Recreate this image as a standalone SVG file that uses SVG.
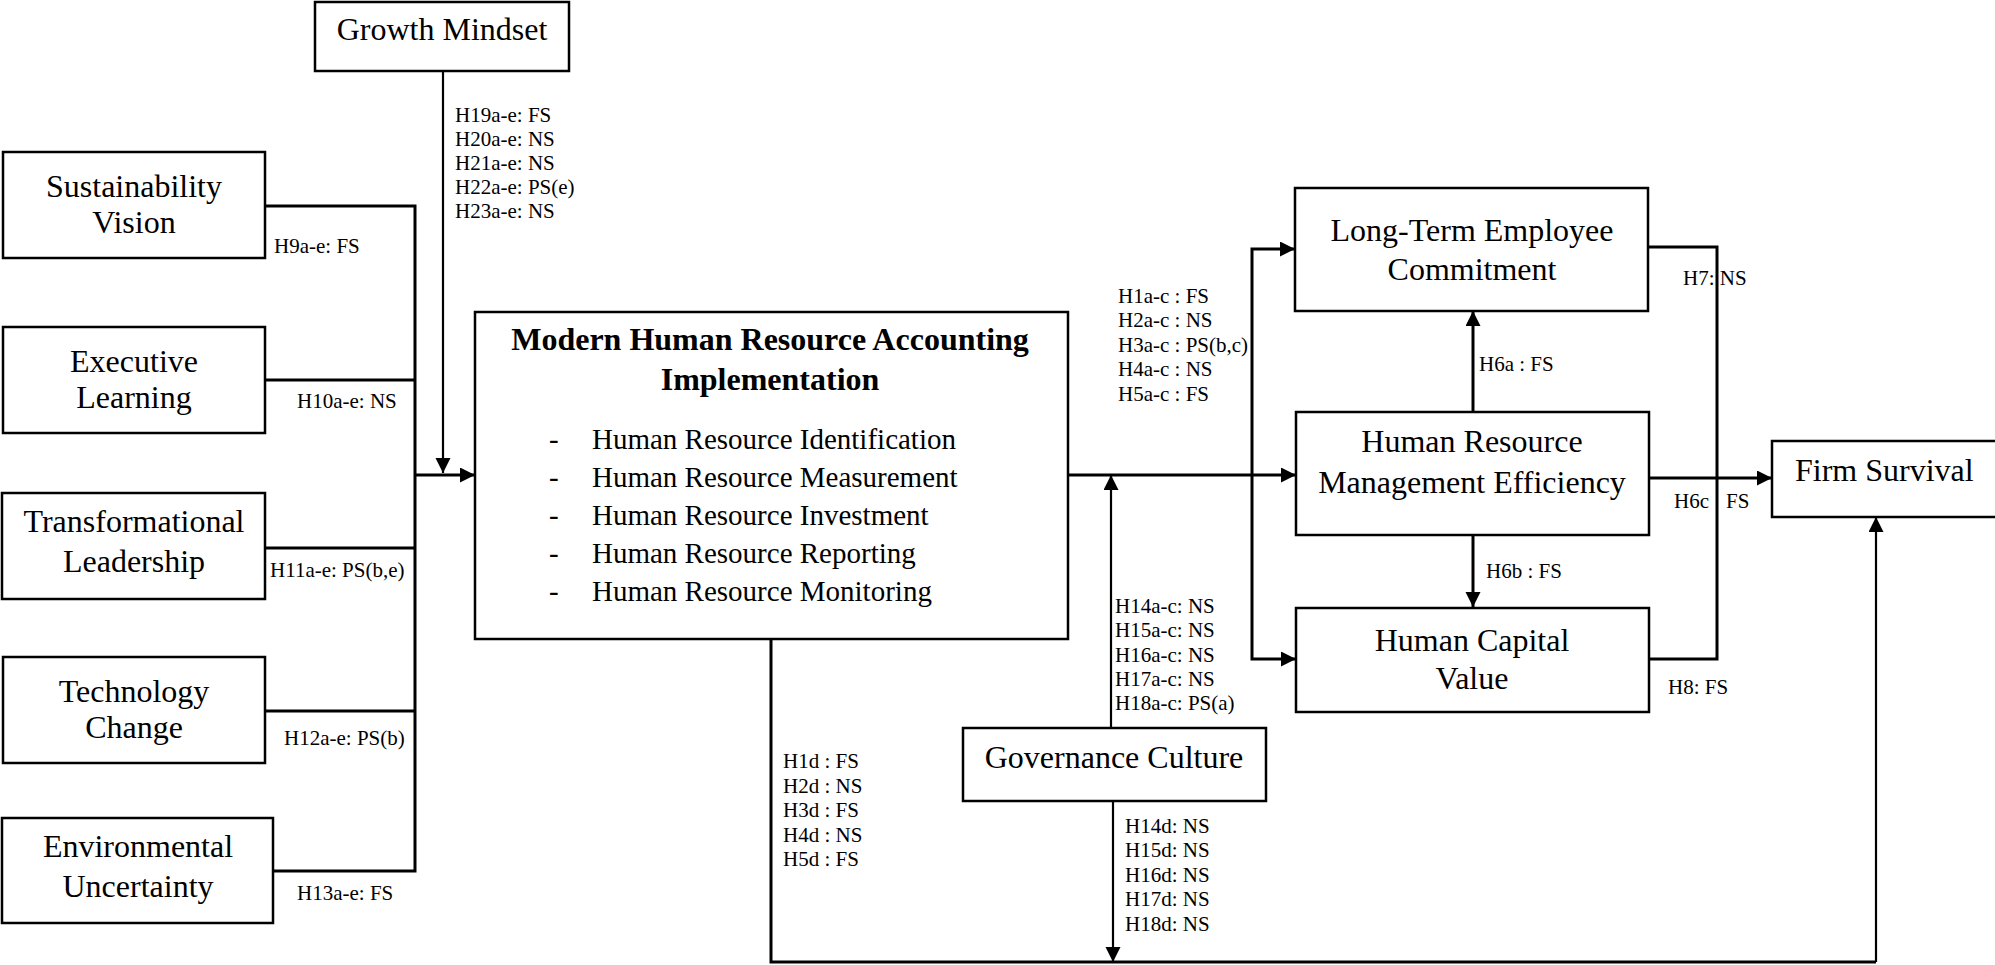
<svg xmlns="http://www.w3.org/2000/svg" width="1995" height="965" viewBox="0 0 1995 965">
  <defs>
    <style>
      .box { fill: #ffffff; stroke: #000000; stroke-width: 2.5; }
      .line { fill: none; stroke: #000000; stroke-width: 3; }
      .thin { fill: none; stroke: #000000; stroke-width: 2.2; }
      .node { font-family: "Liberation Serif", "Times New Roman", serif; font-size: 32px; fill: #000000; text-anchor: middle; }
      .title { font-family: "Liberation Serif", "Times New Roman", serif; font-size: 32px; font-weight: bold; fill: #000000; text-anchor: middle; }
      .item { font-family: "Liberation Serif", "Times New Roman", serif; font-size: 29px; fill: #000000; }
      .lbl { font-family: "Liberation Serif", "Times New Roman", serif; font-size: 21px; fill: #000000; }
    </style>
    <marker id="arrow" markerUnits="userSpaceOnUse" markerWidth="16" markerHeight="16" refX="15" refY="7.5" orient="auto">
      <path d="M0,0 L15,7.5 L0,15 Z" fill="#000000"/>
    </marker>
  </defs>

  <rect width="1995" height="965" fill="#ffffff"/>

  <!-- connectors -->
  <g id="connectors">
    <!-- growth mindset moderator -->
    <path class="thin" d="M443,71 V473" marker-end="url(#arrow)"/>
    <!-- antecedent bus -->
    <path class="line" d="M265,206 H415 V871 H273"/>
    <path class="line" d="M265,380 H415"/>
    <path class="line" d="M265,548 H415"/>
    <path class="line" d="M265,711 H415"/>
    <path class="line" d="M415,475 H475" marker-end="url(#arrow)"/>
    <!-- MHRA to outcomes -->
    <path class="line" d="M1068,475 H1296" marker-end="url(#arrow)"/>
    <path class="line" d="M1252,475 V249 H1295" marker-end="url(#arrow)"/>
    <path class="line" d="M1252,475 V659 H1296" marker-end="url(#arrow)"/>
    <!-- governance culture moderator -->
    <path class="thin" d="M1111,728 V475" marker-end="url(#arrow)"/>
    <path class="thin" d="M1113,801 V962" marker-end="url(#arrow)"/>
    <!-- direct path to firm survival -->
    <path class="line" d="M771,639 V962 H1876"/>
    <path class="thin" d="M1876,962 V517" marker-end="url(#arrow)"/>
    <!-- HRM efficiency links -->
    <path class="line" d="M1473,412 V311" marker-end="url(#arrow)"/>
    <path class="line" d="M1473,535 V607" marker-end="url(#arrow)"/>
    <!-- outcomes to firm survival -->
    <path class="line" d="M1648,247 H1717 V659 H1649"/>
    <path class="line" d="M1649,478 H1772" marker-end="url(#arrow)"/>
  </g>

  <!-- path labels -->
  <g id="labels">
    <text class="lbl" x="455" y="122">H19a-e: FS</text>
    <text class="lbl" x="455" y="146">H20a-e: NS</text>
    <text class="lbl" x="455" y="170">H21a-e: NS</text>
    <text class="lbl" x="455" y="194">H22a-e: PS(e)</text>
    <text class="lbl" x="455" y="218">H23a-e: NS</text>

    <text class="lbl" x="274" y="253">H9a-e: FS</text>
    <text class="lbl" x="297" y="408">H10a-e: NS</text>
    <text class="lbl" x="270" y="577">H11a-e: PS(b,e)</text>
    <text class="lbl" x="284" y="745">H12a-e: PS(b)</text>
    <text class="lbl" x="297" y="900">H13a-e: FS</text>

    <text class="lbl" x="1118" y="303">H1a-c : FS</text>
    <text class="lbl" x="1118" y="327">H2a-c : NS</text>
    <text class="lbl" x="1118" y="352">H3a-c : PS(b,c)</text>
    <text class="lbl" x="1118" y="376">H4a-c : NS</text>
    <text class="lbl" x="1118" y="401">H5a-c : FS</text>

    <text class="lbl" x="1115" y="613">H14a-c: NS</text>
    <text class="lbl" x="1115" y="637">H15a-c: NS</text>
    <text class="lbl" x="1115" y="662">H16a-c: NS</text>
    <text class="lbl" x="1115" y="686">H17a-c: NS</text>
    <text class="lbl" x="1115" y="710">H18a-c: PS(a)</text>

    <text class="lbl" x="783" y="768">H1d : FS</text>
    <text class="lbl" x="783" y="793">H2d : NS</text>
    <text class="lbl" x="783" y="817">H3d : FS</text>
    <text class="lbl" x="783" y="842">H4d : NS</text>
    <text class="lbl" x="783" y="866">H5d : FS</text>

    <text class="lbl" x="1125" y="833">H14d: NS</text>
    <text class="lbl" x="1125" y="857">H15d: NS</text>
    <text class="lbl" x="1125" y="882">H16d: NS</text>
    <text class="lbl" x="1125" y="906">H17d: NS</text>
    <text class="lbl" x="1125" y="931">H18d: NS</text>

    <text class="lbl" x="1479" y="371">H6a : FS</text>
    <text class="lbl" x="1486" y="578">H6b : FS</text>
    <text class="lbl" x="1683" y="285">H7: NS</text>
    <text class="lbl" x="1674" y="508">H6c</text>
    <text class="lbl" x="1726" y="508">FS</text>
    <text class="lbl" x="1668" y="694">H8: FS</text>
  </g>

  <!-- nodes -->
  <g id="growth-mindset">
    <rect class="box" x="315" y="2" width="254" height="69"/>
    <text class="node" x="442" y="40">Growth Mindset</text>
  </g>

  <g id="sustainability-vision">
    <rect class="box" x="3" y="152" width="262" height="106"/>
    <text class="node" x="134" y="197">Sustainability</text>
    <text class="node" x="134" y="233">Vision</text>
  </g>

  <g id="executive-learning">
    <rect class="box" x="3" y="327" width="262" height="106"/>
    <text class="node" x="134" y="372">Executive</text>
    <text class="node" x="134" y="408">Learning</text>
  </g>

  <g id="transformational-leadership">
    <rect class="box" x="2" y="493" width="263" height="106"/>
    <text class="node" x="134" y="532">Transformational</text>
    <text class="node" x="134" y="572">Leadership</text>
  </g>

  <g id="technology-change">
    <rect class="box" x="3" y="657" width="262" height="106"/>
    <text class="node" x="134" y="702">Technology</text>
    <text class="node" x="134" y="738">Change</text>
  </g>

  <g id="environmental-uncertainty">
    <rect class="box" x="2" y="818" width="271" height="105"/>
    <text class="node" x="138" y="857">Environmental</text>
    <text class="node" x="138" y="897">Uncertainty</text>
  </g>

  <g id="mhra-implementation">
    <rect class="box" x="475" y="312" width="593" height="327"/>
    <text class="title" x="770" y="350">Modern Human Resource Accounting</text>
    <text class="title" x="770" y="390">Implementation</text>
    <text class="item" x="549" y="449">-</text>
    <text class="item" x="592" y="449">Human Resource Identification</text>
    <text class="item" x="549" y="487">-</text>
    <text class="item" x="592" y="487">Human Resource Measurement</text>
    <text class="item" x="549" y="525">-</text>
    <text class="item" x="592" y="525">Human Resource Investment</text>
    <text class="item" x="549" y="563">-</text>
    <text class="item" x="592" y="563">Human Resource Reporting</text>
    <text class="item" x="549" y="601">-</text>
    <text class="item" x="592" y="601">Human Resource Monitoring</text>
  </g>

  <g id="governance-culture">
    <rect class="box" x="963" y="728" width="303" height="73"/>
    <text class="node" x="1114" y="768">Governance Culture</text>
  </g>

  <g id="long-term-employee-commitment">
    <rect class="box" x="1295" y="188" width="353" height="123"/>
    <text class="node" x="1472" y="241">Long-Term Employee</text>
    <text class="node" x="1472" y="280">Commitment</text>
  </g>

  <g id="hrm-efficiency">
    <rect class="box" x="1296" y="412" width="353" height="123"/>
    <text class="node" x="1472" y="452">Human Resource</text>
    <text class="node" x="1472" y="493">Management Efficiency</text>
  </g>

  <g id="human-capital-value">
    <rect class="box" x="1296" y="608" width="353" height="104"/>
    <text class="node" x="1472" y="651">Human Capital</text>
    <text class="node" x="1472" y="689">Value</text>
  </g>

  <g id="firm-survival">
    <path class="box" d="M1998,441 H1772 V517 H1998"/>
    <text class="node" x="1795" y="481" style="text-anchor:start">Firm Survival</text>
  </g>
</svg>
